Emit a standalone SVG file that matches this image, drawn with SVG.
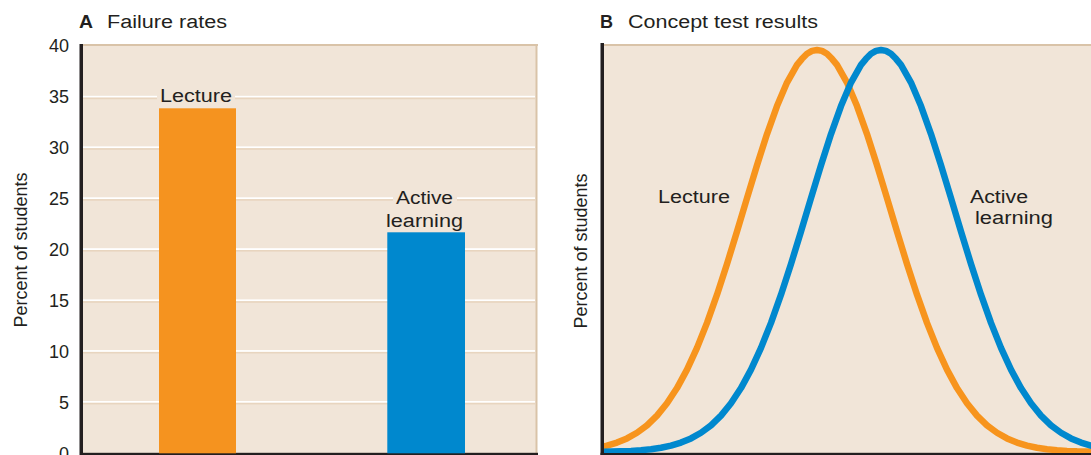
<svg xmlns="http://www.w3.org/2000/svg" width="1091" height="455" viewBox="0 0 1091 455">
<style>
.t{font-family:"Liberation Sans",Arial,Helvetica,sans-serif;font-size:18px;fill:#231f20}
.tick{text-anchor:end}
.bg{fill:#f1e5d8}
.top{fill:#d9c3a8}
.gw{fill:#ffffff}
.gt{fill:#e8d5bf}
.axis{fill:#231f20}
.curve{fill:none;stroke-width:6.5;stroke-linejoin:round;stroke-linecap:round}
</style>
<defs>
<clipPath id="clipB"><rect x="604" y="46" width="487" height="407"/></clipPath>
</defs>
<rect width="1091" height="455" fill="#ffffff"/>

<g id="panelA">
<rect class="bg" x="82" y="45" width="455" height="410"/>
<rect class="top" x="82" y="44" width="456" height="2"/>
<rect class="top" x="535.5" y="44" width="2" height="411"/>
<g id="gridA">
<rect class="gw" x="83" y="95.8" width="452" height="1.8"/><rect class="gt" x="83" y="97.6" width="452" height="1.6"/>
<rect class="gw" x="83" y="146.4" width="452" height="1.8"/><rect class="gt" x="83" y="148.2" width="452" height="1.6"/>
<rect class="gw" x="83" y="197.3" width="452" height="1.8"/><rect class="gt" x="83" y="199.1" width="452" height="1.6"/>
<rect class="gw" x="83" y="248.2" width="452" height="1.8"/><rect class="gt" x="83" y="250" width="452" height="1.6"/>
<rect class="gw" x="83" y="299.4" width="452" height="1.8"/><rect class="gt" x="83" y="301.2" width="452" height="1.6"/>
<rect class="gw" x="83" y="350.1" width="452" height="1.8"/><rect class="gt" x="83" y="351.9" width="452" height="1.6"/>
<rect class="gw" x="83" y="401" width="452" height="1.8"/><rect class="gt" x="83" y="402.8" width="452" height="1.6"/>
</g>
<rect class="axis" x="79.5" y="44" width="3.5" height="411"/>
<rect class="axis" x="80" y="452.8" width="458" height="2.2"/>
<g id="ticksA">
<text class="t tick" x="69" y="52">40</text>
<text class="t tick" x="69" y="103">35</text>
<text class="t tick" x="69" y="154">30</text>
<text class="t tick" x="69" y="205">25</text>
<text class="t tick" x="69" y="256">20</text>
<text class="t tick" x="69" y="307">15</text>
<text class="t tick" x="69" y="358">10</text>
<text class="t tick" x="69" y="408.5">5</text>
<text class="t tick" x="69" y="459.5">0</text>
</g>
<text class="t" transform="translate(27,250) rotate(-90)" text-anchor="middle">Percent of students</text>
<text class="t" x="79" y="28" font-weight="bold" textLength="14" lengthAdjust="spacingAndGlyphs">A</text>
<text class="t" x="107" y="28" textLength="120" lengthAdjust="spacingAndGlyphs">Failure rates</text>
</g>

<g id="barLecture">
<rect x="159" y="108.3" width="77" height="345" fill="#f5931f"/>
<rect class="bg" x="157" y="87" width="78" height="17"/>
<text class="t" x="160" y="101.7" textLength="72" lengthAdjust="spacingAndGlyphs">Lecture</text>
</g>

<g id="barActive">
<rect x="387.3" y="232.3" width="77.7" height="221" fill="#0088ce"/>
<rect class="bg" x="393" y="189" width="64" height="17"/>
<text class="t" x="396" y="204" textLength="57" lengthAdjust="spacingAndGlyphs">Active</text>
<text class="t" x="386" y="226.7" textLength="77" lengthAdjust="spacingAndGlyphs">learning</text>
</g>

<g id="panelB">
<rect class="bg" x="603" y="45" width="488" height="410"/>
<rect class="top" x="603" y="44" width="488" height="2"/>
<rect class="axis" x="600.5" y="43" width="3.5" height="412"/>
<rect class="axis" x="600.5" y="452.8" width="490.5" height="2.2"/>
<text class="t" transform="translate(587,251) rotate(-90)" text-anchor="middle">Percent of students</text>
<text class="t" x="600" y="28" font-weight="bold" textLength="13" lengthAdjust="spacingAndGlyphs">B</text>
<text class="t" x="628" y="28" textLength="190" lengthAdjust="spacingAndGlyphs">Concept test results</text>
</g>

<g id="connectors" clip-path="url(#clipB)">
<polyline id="curveLecture" class="curve" stroke="#f7941d" points="603,446.4 607,445.59 617,442.58 627,438.41 637,432.77 647,425.3 657,415.6 667,403.31 677,388.09 687,369.67 697,347.9 707,322.83 717,294.69 727,264 737,231.48 747,198.16 757,165.24 767,134.05 777,106.04 787,82.55 797,64.81 802,58.8 807,53.75 812,50.9 817,50 822,50.9 827,53.75 832,58.8 837,64.81 847,82.55 857,106.04 867,134.05 877,165.24 887,198.16 897,231.48 907,264 917,294.69 927,322.83 937,347.9 947,369.67 957,388.09 967,403.31 977,415.6 987,425.3 997,432.77 1007,438.41 1017,442.58 1027,445.59 1037,447.71 1047,449.19 1057,450.19 1067,450.9 1077,451.3 1095,451.6"/>
<polyline id="curveActive" class="curve" stroke="#0088ce" points="600,451.7 611,451.6 621,451.3 631,450.9 641,450.19 651,449.19 661,447.71 671,445.59 681,442.58 691,438.41 701,432.77 711,425.3 721,415.6 731,403.31 741,388.09 751,369.67 761,347.9 771,322.83 781,294.69 791,264 801,231.48 811,198.16 821,165.24 831,134.05 841,106.04 851,82.55 861,64.81 866,58.8 871,53.75 876,50.9 881,50 886,50.9 891,53.75 896,58.8 901,64.81 911,82.55 921,106.04 931,134.05 941,165.24 951,198.16 961,231.48 971,264 981,294.69 991,322.83 1001,347.9 1011,369.67 1021,388.09 1031,403.31 1041,415.6 1051,425.3 1061,432.77 1071,438.41 1081,442.58 1091,445.59 1095,446.5"/>
</g>

<g id="labelLectureB">
<text class="t" x="658" y="202.7" textLength="72" lengthAdjust="spacingAndGlyphs">Lecture</text>
</g>
<g id="labelActiveB">
<text class="t" x="970" y="202.7" textLength="58" lengthAdjust="spacingAndGlyphs">Active</text>
<text class="t" x="975" y="224" textLength="78" lengthAdjust="spacingAndGlyphs">learning</text>
</g>
</svg>
